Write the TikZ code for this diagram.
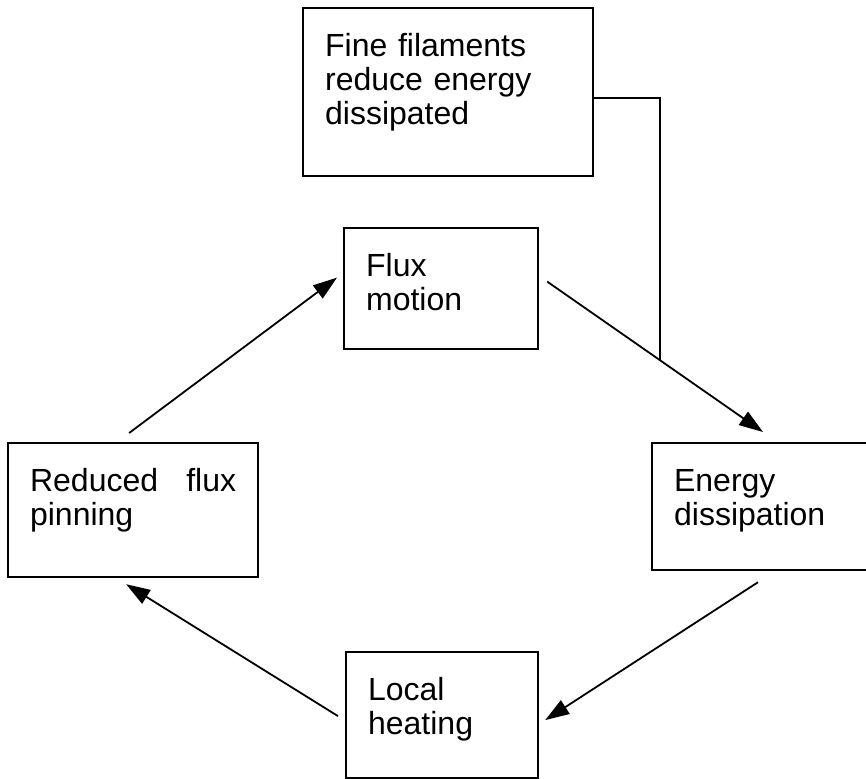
\documentclass[tikz,border=0pt]{standalone}
\usepackage{fontspec}
\setmainfont{Liberation Sans}
\usetikzlibrary{arrows.meta}

\begin{document}
\begin{tikzpicture}[x=0.5pt, y=-0.5pt,
        box/.style={rectangle, draw=black, line width=1.1pt, inner xsep=11pt, inner ysep=0pt,
            text height=24pt, align=left, anchor=north west,
            font=\fontsize{16}{17}\selectfont},
        arr/.style={line width=0.9pt, -{Triangle[length=12pt, width=8pt]}}]
            \useasboundingbox (0, 0) rectangle (866, 778);
            % the loop of boxes
            \node[box, text width=123pt, text depth=60pt] (fine) at (302, 7) {Fine filaments\\reduce energy\\dissipated};
            \node[box, text width=75pt, text depth=36.5pt] (flux) at (343, 227) {Flux\\motion};
            \node[box, text width=103pt, text depth=43pt] (pinning) at (7, 442) {Reduced\hfill flux\\pinning};
            \node[box, text width=92.5pt, text depth=39.5pt] (energy) at (651, 442) {Energy\\dissipation};
            \node[box, text width=74pt, text depth=39pt] (heating) at (345, 651) {Local\\heating};
            % arrows
            \draw[arr] ([shift={(-4, -9)}]pinning.north) -- ([shift={(-6, -11)}]flux.west);
            \draw[arr] ([shift={(8, -7)}]flux.east) -- coordinate[pos=0.523] (join) ([shift={(112, -10)}]energy.north west);
            \draw[arr] ([shift={(107, 11)}]energy.south west) -- ([shift={(6, 5)}]heating.east);
            \draw[arr] ([shift={(-7, 1)}]heating.west) -- ([shift={(-7, 6)}]pinning.south);
            % feed from the top box
            \draw[line width=0.9pt] ([shift={(0, 6)}]fine.east) -| (join);
        \end{tikzpicture}
\end{document}
